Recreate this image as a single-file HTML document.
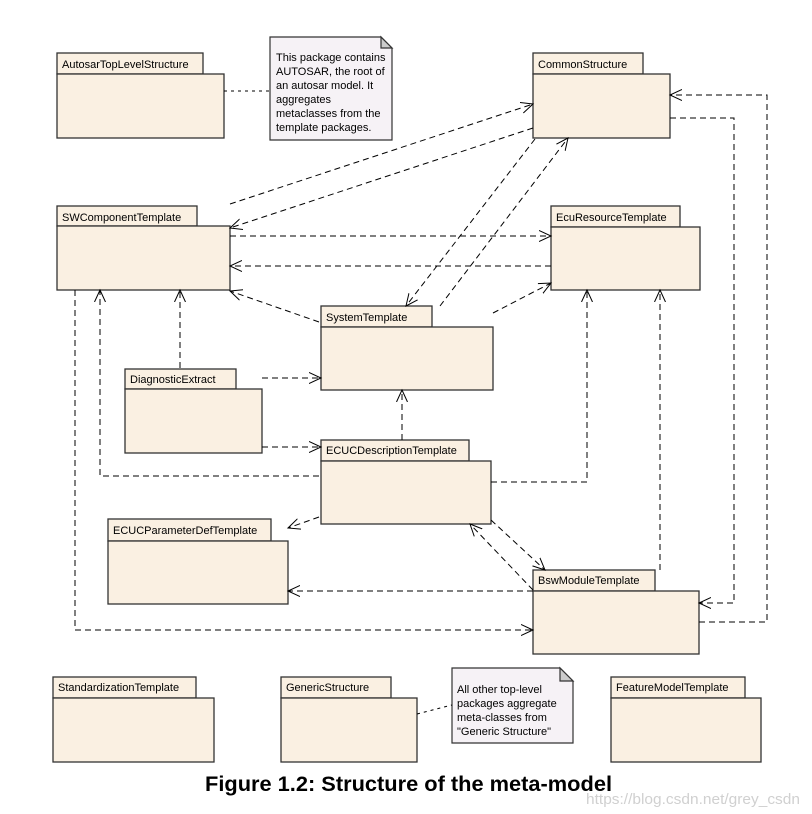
<!DOCTYPE html>
<html><head><meta charset="utf-8"><style>
html,body{margin:0;padding:0;background:#fff;}
svg{display:block;}
text{font-family:"Liberation Sans",sans-serif;}
</style></head><body>
<svg width="812" height="814" viewBox="0 0 812 814" xmlns="http://www.w3.org/2000/svg">
<defs>
<marker id="a" markerWidth="14" markerHeight="12" refX="12" refY="6" orient="auto" markerUnits="userSpaceOnUse">
<path d="M0,0.5 L12,6 L0,11.5" fill="none" stroke="#000" stroke-width="1"/>
</marker>
</defs>
<g fill="#faf0e2" stroke="#333" stroke-width="1.3">
<rect x="57" y="53" width="146" height="21"/><rect x="57" y="74" width="167" height="64"/>
<rect x="533" y="53" width="110" height="21"/><rect x="533" y="74" width="137" height="64"/>
<rect x="57" y="206" width="140" height="20"/><rect x="57" y="226" width="173" height="64"/>
<rect x="551" y="206" width="129" height="21"/><rect x="551" y="227" width="149" height="63"/>
<rect x="321" y="306" width="111" height="21"/><rect x="321" y="327" width="172" height="63"/>
<rect x="125" y="369" width="111" height="20"/><rect x="125" y="389" width="137" height="64"/>
<rect x="321" y="440" width="148" height="21"/><rect x="321" y="461" width="170" height="63"/>
<rect x="108" y="519" width="163" height="22"/><rect x="108" y="541" width="180" height="63"/>
<rect x="533" y="570" width="122" height="21"/><rect x="533" y="591" width="166" height="63"/>
<rect x="53" y="677" width="143" height="21"/><rect x="53" y="698" width="161" height="64"/>
<rect x="281" y="677" width="110" height="21"/><rect x="281" y="698" width="136" height="64"/>
<rect x="611" y="677" width="134" height="21"/><rect x="611" y="698" width="150" height="64"/>
</g>
<g font-size="11" fill="#000">
<text x="62" y="68">AutosarTopLevelStructure</text>
<text x="538" y="68">CommonStructure</text>
<text x="62" y="221">SWComponentTemplate</text>
<text x="556" y="221">EcuResourceTemplate</text>
<text x="326" y="321">SystemTemplate</text>
<text x="130" y="383">DiagnosticExtract</text>
<text x="326" y="454">ECUCDescriptionTemplate</text>
<text x="113" y="534">ECUCParameterDefTemplate</text>
<text x="538" y="584">BswModuleTemplate</text>
<text x="58" y="691">StandardizationTemplate</text>
<text x="286" y="691">GenericStructure</text>
<text x="616" y="691">FeatureModelTemplate</text>
</g>
<g stroke="#333" stroke-width="1.2">
<path d="M270,37 L381,37 L392,48 L392,140 L270,140 Z" fill="#f6f2f6"/>
<path d="M381,37 L381,48 L392,48 Z" fill="#ccc"/>
<path d="M452,668 L560,668 L573,681 L573,743 L452,743 Z" fill="#f6f2f6"/>
<path d="M560,668 L560,681 L573,681 Z" fill="#ccc"/>
</g>
<g font-size="11" fill="#000">
<text x="276" y="61">This package contains</text>
<text x="276" y="75">AUTOSAR, the root of</text>
<text x="276" y="89">an autosar model. It</text>
<text x="276" y="103">aggregates</text>
<text x="276" y="117">metaclasses from the</text>
<text x="276" y="131">template packages.</text>
<text x="457" y="693">All other top-level</text>
<text x="457" y="707">packages aggregate</text>
<text x="457" y="721">meta-classes from</text>
<text x="457" y="735">"Generic Structure"</text>
</g>
<g fill="none" stroke="#000" stroke-width="1" stroke-dasharray="6,4">
<path d="M224,91 L270,91" stroke-dasharray="3,4"/>
<path d="M417,714 L452,705" stroke-dasharray="3,4"/>
<path d="M230,204 L533,104" marker-end="url(#a)"/>
<path d="M533,128 L230,228" marker-end="url(#a)"/>
<path d="M230,236 L551,236" marker-end="url(#a)"/>
<path d="M551,266 L230,266" marker-end="url(#a)"/>
<path d="M319,322 L230,291" marker-end="url(#a)"/>
<path d="M535,139 L406,306" marker-end="url(#a)"/>
<path d="M440,306 L568,138" marker-end="url(#a)"/>
<path d="M493,313 L551,283" marker-end="url(#a)"/>
<path d="M180,368 L180,290" marker-end="url(#a)"/>
<path d="M262,378 L321,378" marker-end="url(#a)"/>
<path d="M262,447 L321,447" marker-end="url(#a)"/>
<path d="M402,440 L402,390" marker-end="url(#a)"/>
<path d="M319,476 L100,476 L100,290" marker-end="url(#a)"/>
<path d="M491,482 L587,482 L587,290" marker-end="url(#a)"/>
<path d="M319,517 L288,528" marker-end="url(#a)"/>
<path d="M533,590 L470,524" marker-end="url(#a)"/>
<path d="M491,520 L545,570" marker-end="url(#a)"/>
<path d="M533,591 L288,591" marker-end="url(#a)"/>
<path d="M75,290 L75,630 L533,630" marker-end="url(#a)"/>
<path d="M660,570 L660,290" marker-end="url(#a)"/>
<path d="M670,118 L734,118 L734,603 L699,603" marker-end="url(#a)"/>
<path d="M699,622 L767,622 L767,95 L670,95" marker-end="url(#a)"/>
</g>
<text x="205" y="791" font-size="21" font-weight="bold" fill="#000" textLength="407" lengthAdjust="spacingAndGlyphs">Figure 1.2: Structure of the meta-model</text>
<text x="586" y="804" font-size="15" fill="#d0d0d0" textLength="214" lengthAdjust="spacingAndGlyphs">https://blog.csdn.net/grey_csdn</text>
</svg>
</body></html>
